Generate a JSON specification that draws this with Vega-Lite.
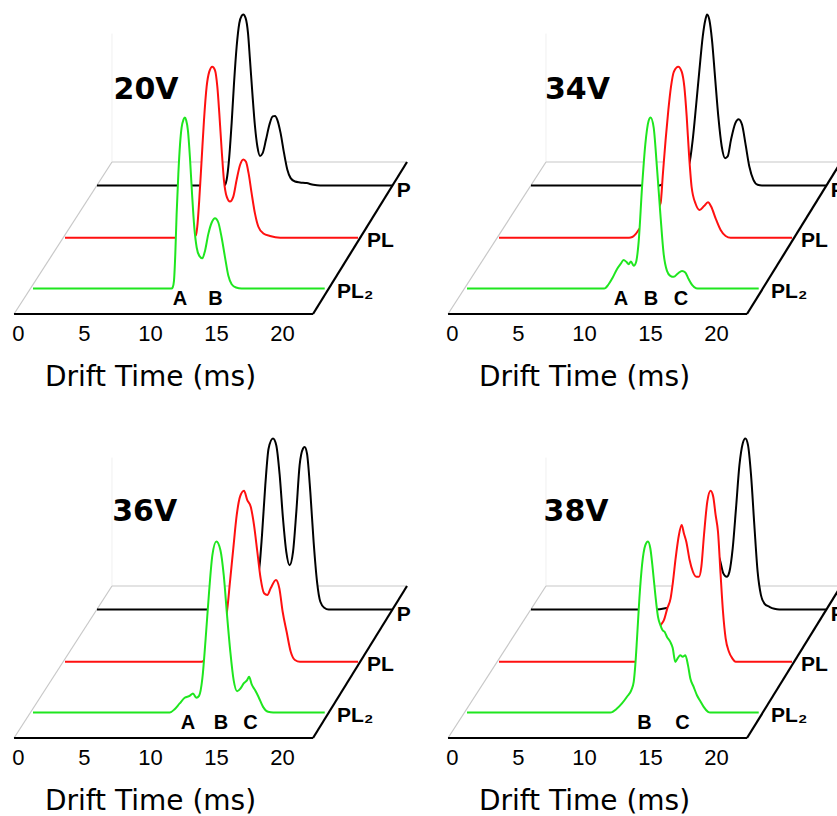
{
"$schema": "https://vega.github.io/schema/vega-lite/v6.json",
"padding": 0,
"background": "white",
"datasets": {
"traces": [
{"p":"20V","s":"PL2","t":0,"v":0},{"p":"20V","s":"PL2","t":10.5,"v":0},{"p":"20V","s":"PL2","t":10.58,"v":0.6},{"p":"20V","s":"PL2","t":10.68,"v":4.5},{"p":"20V","s":"PL2","t":10.78,"v":20.1},{"p":"20V","s":"PL2","t":10.88,"v":43.5},{"p":"20V","s":"PL2","t":11.01,"v":66.9},{"p":"20V","s":"PL2","t":11.14,"v":84.4},{"p":"20V","s":"PL2","t":11.26,"v":94.2},{"p":"20V","s":"PL2","t":11.4,"v":98.8},{"p":"20V","s":"PL2","t":11.5,"v":100},{"p":"20V","s":"PL2","t":11.6,"v":98.6},{"p":"20V","s":"PL2","t":11.74,"v":92.2},{"p":"20V","s":"PL2","t":11.89,"v":76.6},{"p":"20V","s":"PL2","t":12.05,"v":55.2},{"p":"20V","s":"PL2","t":12.22,"v":35.7},{"p":"20V","s":"PL2","t":12.4,"v":24},{"p":"20V","s":"PL2","t":12.6,"v":19.1},{"p":"20V","s":"PL2","t":12.83,"v":17.7},{"p":"20V","s":"PL2","t":13.03,"v":22},{"p":"20V","s":"PL2","t":13.28,"v":31.8},{"p":"20V","s":"PL2","t":13.54,"v":38.6},{"p":"20V","s":"PL2","t":13.79,"v":41.1},{"p":"20V","s":"PL2","t":14.04,"v":38.6},{"p":"20V","s":"PL2","t":14.29,"v":29.8},{"p":"20V","s":"PL2","t":14.55,"v":18.1},{"p":"20V","s":"PL2","t":14.8,"v":7.4},{"p":"20V","s":"PL2","t":15.05,"v":2.5},{"p":"20V","s":"PL2","t":15.38,"v":0.6},{"p":"20V","s":"PL2","t":15.8,"v":0},{"p":"20V","s":"PL2","t":22.1,"v":0},
{"p":"20V","s":"PL","t":0,"v":0},{"p":"20V","s":"PL","t":9.7,"v":0},{"p":"20V","s":"PL","t":9.92,"v":1.6},{"p":"20V","s":"PL","t":10.02,"v":6.4},{"p":"20V","s":"PL","t":10.17,"v":22},{"p":"20V","s":"PL","t":10.35,"v":45.4},{"p":"20V","s":"PL","t":10.53,"v":68.8},{"p":"20V","s":"PL","t":10.73,"v":88.3},{"p":"20V","s":"PL","t":10.93,"v":97.1},{"p":"20V","s":"PL","t":11.16,"v":100},{"p":"20V","s":"PL","t":11.36,"v":98},{"p":"20V","s":"PL","t":11.54,"v":88.3},{"p":"20V","s":"PL","t":11.69,"v":72.7},{"p":"20V","s":"PL","t":11.87,"v":51.3},{"p":"20V","s":"PL","t":12.04,"v":33.7},{"p":"20V","s":"PL","t":12.25,"v":24},{"p":"20V","s":"PL","t":12.5,"v":21.1},{"p":"20V","s":"PL","t":12.75,"v":24},{"p":"20V","s":"PL","t":13.0,"v":33.7},{"p":"20V","s":"PL","t":13.26,"v":42.5},{"p":"20V","s":"PL","t":13.51,"v":45.8},{"p":"20V","s":"PL","t":13.71,"v":44.4},{"p":"20V","s":"PL","t":13.91,"v":37.6},{"p":"20V","s":"PL","t":14.14,"v":25.9},{"p":"20V","s":"PL","t":14.39,"v":14.2},{"p":"20V","s":"PL","t":14.65,"v":6.4},{"p":"20V","s":"PL","t":15.03,"v":2.5},{"p":"20V","s":"PL","t":15.53,"v":1},{"p":"20V","s":"PL","t":16.3,"v":0},{"p":"20V","s":"PL","t":22.2,"v":0},
{"p":"20V","s":"P","t":0,"v":0},{"p":"20V","s":"P","t":9.6,"v":0},{"p":"20V","s":"P","t":9.7,"v":0.4},{"p":"20V","s":"P","t":9.82,"v":3.3},{"p":"20V","s":"P","t":10.0,"v":15},{"p":"20V","s":"P","t":10.2,"v":36.5},{"p":"20V","s":"P","t":10.38,"v":59.8},{"p":"20V","s":"P","t":10.58,"v":81.3},{"p":"20V","s":"P","t":10.78,"v":94.9},{"p":"20V","s":"P","t":10.96,"v":99.2},{"p":"20V","s":"P","t":11.08,"v":100},{"p":"20V","s":"P","t":11.26,"v":97.9},{"p":"20V","s":"P","t":11.44,"v":89.1},{"p":"20V","s":"P","t":11.59,"v":73.5},{"p":"20V","s":"P","t":11.77,"v":54},{"p":"20V","s":"P","t":11.97,"v":34.5},{"p":"20V","s":"P","t":12.15,"v":22.8},{"p":"20V","s":"P","t":12.35,"v":17.3},{"p":"20V","s":"P","t":12.55,"v":18.9},{"p":"20V","s":"P","t":12.8,"v":26.7},{"p":"20V","s":"P","t":13.06,"v":35.5},{"p":"20V","s":"P","t":13.31,"v":40.4},{"p":"20V","s":"P","t":13.49,"v":40.7},{"p":"20V","s":"P","t":13.66,"v":38.4},{"p":"20V","s":"P","t":13.91,"v":30.6},{"p":"20V","s":"P","t":14.17,"v":18.9},{"p":"20V","s":"P","t":14.42,"v":9.2},{"p":"20V","s":"P","t":14.67,"v":4.3},{"p":"20V","s":"P","t":15.0,"v":2.3},{"p":"20V","s":"P","t":15.38,"v":1.8},{"p":"20V","s":"P","t":15.88,"v":1.4},{"p":"20V","s":"P","t":16.39,"v":0.4},{"p":"20V","s":"P","t":16.9,"v":0},{"p":"20V","s":"P","t":22.35,"v":0},
{"p":"34V","s":"PL2","t":0,"v":0},{"p":"34V","s":"PL2","t":10.4,"v":0},{"p":"34V","s":"PL2","t":10.48,"v":0.2},{"p":"34V","s":"PL2","t":10.73,"v":2.5},{"p":"34V","s":"PL2","t":11.04,"v":6.4},{"p":"34V","s":"PL2","t":11.36,"v":11.3},{"p":"34V","s":"PL2","t":11.62,"v":14.2},{"p":"34V","s":"PL2","t":11.87,"v":16.6},{"p":"34V","s":"PL2","t":12.07,"v":15.6},{"p":"34V","s":"PL2","t":12.25,"v":14.2},{"p":"34V","s":"PL2","t":12.42,"v":15.8},{"p":"34V","s":"PL2","t":12.63,"v":13.3},{"p":"34V","s":"PL2","t":12.8,"v":15.2},{"p":"34V","s":"PL2","t":13.01,"v":27.9},{"p":"34V","s":"PL2","t":13.26,"v":59.1},{"p":"34V","s":"PL2","t":13.51,"v":84.4},{"p":"34V","s":"PL2","t":13.76,"v":98.1},{"p":"34V","s":"PL2","t":13.91,"v":100},{"p":"34V","s":"PL2","t":14.14,"v":94.2},{"p":"34V","s":"PL2","t":14.39,"v":70.8},{"p":"34V","s":"PL2","t":14.65,"v":43.5},{"p":"34V","s":"PL2","t":14.9,"v":20.1},{"p":"34V","s":"PL2","t":15.15,"v":10.3},{"p":"34V","s":"PL2","t":15.4,"v":7.4},{"p":"34V","s":"PL2","t":15.66,"v":6.8},{"p":"34V","s":"PL2","t":15.98,"v":8.8},{"p":"34V","s":"PL2","t":16.29,"v":10.3},{"p":"34V","s":"PL2","t":16.54,"v":9.4},{"p":"34V","s":"PL2","t":16.79,"v":5.5},{"p":"34V","s":"PL2","t":17.05,"v":2.1},{"p":"34V","s":"PL2","t":17.35,"v":0.2},{"p":"34V","s":"PL2","t":17.6,"v":0},{"p":"34V","s":"PL2","t":22.1,"v":0},
{"p":"34V","s":"PL","t":0,"v":0},{"p":"34V","s":"PL","t":9.85,"v":0},{"p":"34V","s":"PL","t":10.1,"v":0.4},{"p":"34V","s":"PL","t":10.35,"v":2.1},{"p":"34V","s":"PL","t":10.61,"v":4.9},{"p":"34V","s":"PL","t":10.86,"v":7.4},{"p":"34V","s":"PL","t":11.24,"v":10.3},{"p":"34V","s":"PL","t":11.62,"v":13},{"p":"34V","s":"PL","t":11.95,"v":16},{"p":"34V","s":"PL","t":12.24,"v":20.1},{"p":"34V","s":"PL","t":12.42,"v":37.7},{"p":"34V","s":"PL","t":12.62,"v":57.1},{"p":"34V","s":"PL","t":12.83,"v":74.7},{"p":"34V","s":"PL","t":13.03,"v":88.3},{"p":"34V","s":"PL","t":13.25,"v":97.1},{"p":"34V","s":"PL","t":13.58,"v":100},{"p":"34V","s":"PL","t":13.84,"v":97.1},{"p":"34V","s":"PL","t":14.04,"v":88.3},{"p":"34V","s":"PL","t":14.22,"v":70.8},{"p":"34V","s":"PL","t":14.39,"v":49.3},{"p":"34V","s":"PL","t":14.59,"v":29.8},{"p":"34V","s":"PL","t":14.9,"v":19.7},{"p":"34V","s":"PL","t":15.2,"v":16.2},{"p":"34V","s":"PL","t":15.53,"v":18.5},{"p":"34V","s":"PL","t":15.83,"v":20.7},{"p":"34V","s":"PL","t":16.08,"v":18.1},{"p":"34V","s":"PL","t":16.41,"v":11.3},{"p":"34V","s":"PL","t":16.79,"v":4.5},{"p":"34V","s":"PL","t":17.17,"v":1},{"p":"34V","s":"PL","t":17.55,"v":0},{"p":"34V","s":"PL","t":22.2,"v":0},
{"p":"34V","s":"P","t":0,"v":0},{"p":"34V","s":"P","t":9.72,"v":0},{"p":"34V","s":"P","t":10.23,"v":1.8},{"p":"34V","s":"P","t":10.99,"v":4.3},{"p":"34V","s":"P","t":11.62,"v":8.2},{"p":"34V","s":"P","t":12.0,"v":13.1},{"p":"34V","s":"P","t":12.25,"v":26.7},{"p":"34V","s":"P","t":12.5,"v":46.2},{"p":"34V","s":"P","t":12.76,"v":67.6},{"p":"34V","s":"P","t":13.01,"v":87.1},{"p":"34V","s":"P","t":13.21,"v":96.9},{"p":"34V","s":"P","t":13.34,"v":100},{"p":"34V","s":"P","t":13.51,"v":96.9},{"p":"34V","s":"P","t":13.71,"v":85.2},{"p":"34V","s":"P","t":13.94,"v":63.7},{"p":"34V","s":"P","t":14.19,"v":40.4},{"p":"34V","s":"P","t":14.45,"v":22.8},{"p":"34V","s":"P","t":14.7,"v":16},{"p":"34V","s":"P","t":14.9,"v":17},{"p":"34V","s":"P","t":15.15,"v":26.7},{"p":"34V","s":"P","t":15.48,"v":36.5},{"p":"34V","s":"P","t":15.73,"v":38.8},{"p":"34V","s":"P","t":15.99,"v":35.5},{"p":"34V","s":"P","t":16.24,"v":24.8},{"p":"34V","s":"P","t":16.54,"v":11.1},{"p":"34V","s":"P","t":16.85,"v":3.3},{"p":"34V","s":"P","t":17.17,"v":0.4},{"p":"34V","s":"P","t":17.5,"v":0},{"p":"34V","s":"P","t":22.35,"v":0},
{"p":"36V","s":"PL2","t":0,"v":0},{"p":"36V","s":"PL2","t":10.36,"v":0},{"p":"36V","s":"PL2","t":10.73,"v":1.9},{"p":"36V","s":"PL2","t":11.11,"v":5.3},{"p":"36V","s":"PL2","t":11.49,"v":8.6},{"p":"36V","s":"PL2","t":11.87,"v":9.7},{"p":"36V","s":"PL2","t":12.12,"v":11.1},{"p":"36V","s":"PL2","t":12.38,"v":8.6},{"p":"36V","s":"PL2","t":12.58,"v":9.7},{"p":"36V","s":"PL2","t":12.83,"v":19.9},{"p":"36V","s":"PL2","t":13.08,"v":43.3},{"p":"36V","s":"PL2","t":13.34,"v":70.6},{"p":"36V","s":"PL2","t":13.59,"v":92},{"p":"36V","s":"PL2","t":13.89,"v":100},{"p":"36V","s":"PL2","t":14.2,"v":94.9},{"p":"36V","s":"PL2","t":14.45,"v":80.3},{"p":"36V","s":"PL2","t":14.7,"v":56.9},{"p":"36V","s":"PL2","t":14.95,"v":35.5},{"p":"36V","s":"PL2","t":15.2,"v":18.9},{"p":"36V","s":"PL2","t":15.46,"v":12.5},{"p":"36V","s":"PL2","t":15.71,"v":14},{"p":"36V","s":"PL2","t":15.96,"v":17},{"p":"36V","s":"PL2","t":16.22,"v":18.9},{"p":"36V","s":"PL2","t":16.37,"v":20.9},{"p":"36V","s":"PL2","t":16.57,"v":16.4},{"p":"36V","s":"PL2","t":16.82,"v":13.1},{"p":"36V","s":"PL2","t":17.08,"v":9.2},{"p":"36V","s":"PL2","t":17.43,"v":3.3},{"p":"36V","s":"PL2","t":17.81,"v":0.4},{"p":"36V","s":"PL2","t":18.2,"v":0},{"p":"36V","s":"PL2","t":22.1,"v":0},
{"p":"36V","s":"PL","t":0,"v":0},{"p":"36V","s":"PL","t":10.35,"v":0},{"p":"36V","s":"PL","t":10.73,"v":1.9},{"p":"36V","s":"PL","t":11.24,"v":7.8},{"p":"36V","s":"PL","t":11.74,"v":16.6},{"p":"36V","s":"PL","t":12.25,"v":28.3},{"p":"36V","s":"PL","t":12.5,"v":46.8},{"p":"36V","s":"PL","t":12.75,"v":66.3},{"p":"36V","s":"PL","t":13.01,"v":85.8},{"p":"36V","s":"PL","t":13.26,"v":96.5},{"p":"36V","s":"PL","t":13.56,"v":100},{"p":"36V","s":"PL","t":13.81,"v":94.5},{"p":"36V","s":"PL","t":14.07,"v":90.6},{"p":"36V","s":"PL","t":14.32,"v":79.9},{"p":"36V","s":"PL","t":14.57,"v":64.3},{"p":"36V","s":"PL","t":14.82,"v":48.7},{"p":"36V","s":"PL","t":15.08,"v":40},{"p":"36V","s":"PL","t":15.33,"v":39},{"p":"36V","s":"PL","t":15.58,"v":42.9},{"p":"36V","s":"PL","t":15.98,"v":47.8},{"p":"36V","s":"PL","t":16.24,"v":42.9},{"p":"36V","s":"PL","t":16.49,"v":29.2},{"p":"36V","s":"PL","t":16.79,"v":17.5},{"p":"36V","s":"PL","t":17.1,"v":5.8},{"p":"36V","s":"PL","t":17.42,"v":1},{"p":"36V","s":"PL","t":17.8,"v":0},{"p":"36V","s":"PL","t":22.2,"v":0},
{"p":"36V","s":"P","t":0,"v":0},{"p":"36V","s":"P","t":9.97,"v":0},{"p":"36V","s":"P","t":10.85,"v":1.6},{"p":"36V","s":"P","t":11.49,"v":5.5},{"p":"36V","s":"P","t":12.0,"v":14.2},{"p":"36V","s":"P","t":12.32,"v":25.9},{"p":"36V","s":"P","t":12.5,"v":43.5},{"p":"36V","s":"P","t":12.75,"v":72.7},{"p":"36V","s":"P","t":13.0,"v":94.2},{"p":"36V","s":"P","t":13.33,"v":100},{"p":"36V","s":"P","t":13.58,"v":96.1},{"p":"36V","s":"P","t":13.84,"v":78.6},{"p":"36V","s":"P","t":14.09,"v":53.2},{"p":"36V","s":"P","t":14.34,"v":33.7},{"p":"36V","s":"P","t":14.59,"v":25.9},{"p":"36V","s":"P","t":14.85,"v":33.7},{"p":"36V","s":"P","t":15.1,"v":57.1},{"p":"36V","s":"P","t":15.35,"v":84.4},{"p":"36V","s":"P","t":15.61,"v":94.2},{"p":"36V","s":"P","t":15.73,"v":95.1},{"p":"36V","s":"P","t":15.91,"v":91.2},{"p":"36V","s":"P","t":16.16,"v":68.8},{"p":"36V","s":"P","t":16.41,"v":39.6},{"p":"36V","s":"P","t":16.67,"v":16.2},{"p":"36V","s":"P","t":16.92,"v":4.5},{"p":"36V","s":"P","t":17.22,"v":1},{"p":"36V","s":"P","t":17.55,"v":0},{"p":"36V","s":"P","t":22.35,"v":0},
{"p":"38V","s":"PL2","t":0,"v":0},{"p":"38V","s":"PL2","t":10.86,"v":0},{"p":"38V","s":"PL2","t":11.36,"v":2.3},{"p":"38V","s":"PL2","t":11.74,"v":5.3},{"p":"38V","s":"PL2","t":12.12,"v":9.2},{"p":"38V","s":"PL2","t":12.45,"v":13.1},{"p":"38V","s":"PL2","t":12.63,"v":17.9},{"p":"38V","s":"PL2","t":12.75,"v":27.7},{"p":"38V","s":"PL2","t":12.88,"v":43.3},{"p":"38V","s":"PL2","t":13.06,"v":66.7},{"p":"38V","s":"PL2","t":13.26,"v":86.2},{"p":"38V","s":"PL2","t":13.51,"v":97.9},{"p":"38V","s":"PL2","t":13.71,"v":100},{"p":"38V","s":"PL2","t":13.89,"v":95.9},{"p":"38V","s":"PL2","t":14.07,"v":84.2},{"p":"38V","s":"PL2","t":14.27,"v":68.6},{"p":"38V","s":"PL2","t":14.47,"v":55.9},{"p":"38V","s":"PL2","t":14.65,"v":51.1},{"p":"38V","s":"PL2","t":14.82,"v":48.1},{"p":"38V","s":"PL2","t":14.97,"v":47.2},{"p":"38V","s":"PL2","t":15.15,"v":44.2},{"p":"38V","s":"PL2","t":15.4,"v":41.3},{"p":"38V","s":"PL2","t":15.58,"v":37.8},{"p":"38V","s":"PL2","t":15.78,"v":29.6},{"p":"38V","s":"PL2","t":15.98,"v":32},{"p":"38V","s":"PL2","t":16.16,"v":33.5},{"p":"38V","s":"PL2","t":16.34,"v":32.6},{"p":"38V","s":"PL2","t":16.54,"v":33.5},{"p":"38V","s":"PL2","t":16.74,"v":27.7},{"p":"38V","s":"PL2","t":16.92,"v":19.9},{"p":"38V","s":"PL2","t":17.17,"v":15},{"p":"38V","s":"PL2","t":17.42,"v":10.1},{"p":"38V","s":"PL2","t":17.68,"v":6.6},{"p":"38V","s":"PL2","t":17.93,"v":3.3},{"p":"38V","s":"PL2","t":18.26,"v":0.4},{"p":"38V","s":"PL2","t":18.43,"v":0},{"p":"38V","s":"PL2","t":22.1,"v":0},
{"p":"38V","s":"PL","t":0,"v":0},{"p":"38V","s":"PL","t":10.48,"v":0},{"p":"38V","s":"PL","t":11.1,"v":2.3},{"p":"38V","s":"PL","t":11.61,"v":6.8},{"p":"38V","s":"PL","t":12.25,"v":21.4},{"p":"38V","s":"PL","t":12.5,"v":24.4},{"p":"38V","s":"PL","t":12.75,"v":31.2},{"p":"38V","s":"PL","t":13.0,"v":37},{"p":"38V","s":"PL","t":13.18,"v":46.8},{"p":"38V","s":"PL","t":13.38,"v":60.4},{"p":"38V","s":"PL","t":13.63,"v":74.1},{"p":"38V","s":"PL","t":13.84,"v":79.9},{"p":"38V","s":"PL","t":14.01,"v":75},{"p":"38V","s":"PL","t":14.19,"v":70.2},{"p":"38V","s":"PL","t":14.44,"v":59.5},{"p":"38V","s":"PL","t":14.69,"v":52.6},{"p":"38V","s":"PL","t":14.95,"v":49.7},{"p":"38V","s":"PL","t":15.15,"v":49.7},{"p":"38V","s":"PL","t":15.33,"v":55.6},{"p":"38V","s":"PL","t":15.53,"v":74.1},{"p":"38V","s":"PL","t":15.78,"v":93.6},{"p":"38V","s":"PL","t":16.03,"v":100},{"p":"38V","s":"PL","t":16.23,"v":96.5},{"p":"38V","s":"PL","t":16.41,"v":85.8},{"p":"38V","s":"PL","t":16.59,"v":76},{"p":"38V","s":"PL","t":16.79,"v":50.7},{"p":"38V","s":"PL","t":16.97,"v":29.2},{"p":"38V","s":"PL","t":17.17,"v":13.6},{"p":"38V","s":"PL","t":17.42,"v":5.8},{"p":"38V","s":"PL","t":17.68,"v":1.9},{"p":"38V","s":"PL","t":17.93,"v":0},{"p":"38V","s":"PL","t":22.2,"v":0},
{"p":"38V","s":"P","t":0,"v":0},{"p":"38V","s":"P","t":9.47,"v":0},{"p":"38V","s":"P","t":10.36,"v":1},{"p":"38V","s":"P","t":11.24,"v":2.5},{"p":"38V","s":"P","t":12.0,"v":6.4},{"p":"38V","s":"P","t":12.75,"v":16.2},{"p":"38V","s":"P","t":13.26,"v":29.8},{"p":"38V","s":"P","t":13.64,"v":37.6},{"p":"38V","s":"P","t":13.97,"v":35.7},{"p":"38V","s":"P","t":14.32,"v":28.8},{"p":"38V","s":"P","t":14.57,"v":21.1},{"p":"38V","s":"P","t":14.83,"v":19.1},{"p":"38V","s":"P","t":15.03,"v":22},{"p":"38V","s":"P","t":15.28,"v":35.7},{"p":"38V","s":"P","t":15.53,"v":59.1},{"p":"38V","s":"P","t":15.79,"v":84.4},{"p":"38V","s":"P","t":16.04,"v":97.1},{"p":"38V","s":"P","t":16.24,"v":100},{"p":"38V","s":"P","t":16.44,"v":96.1},{"p":"38V","s":"P","t":16.67,"v":78.6},{"p":"38V","s":"P","t":16.92,"v":49.3},{"p":"38V","s":"P","t":17.17,"v":22},{"p":"38V","s":"P","t":17.42,"v":8.4},{"p":"38V","s":"P","t":17.68,"v":3.5},{"p":"38V","s":"P","t":18.06,"v":1.6},{"p":"38V","s":"P","t":18.44,"v":0.4},{"p":"38V","s":"P","t":18.81,"v":0},{"p":"38V","s":"P","t":22.35,"v":0}
],
"floor": [
{"e":"front","t":-0.3,"v":0,"t2":22.35,"v2":0},{"e":"right","t":22.35,"v":0,"t2":29.47,"v2":88.9},{"e":"back","t":7.12,"v":88.9,"t2":29.47,"v2":88.9},{"e":"left","t":-0.3,"v":0,"t2":7.12,"v2":88.9},{"e":"post","t":7.12,"v":88.9,"t2":7.12,"v2":164}
],
"labels": [
{"p":"20V","k":"volt","t":9.7,"v":126,"txt":"20V"},{"p":"34V","k":"volt","t":9.5,"v":126,"txt":"34V"},{"p":"36V","k":"volt","t":9.6,"v":127,"txt":"36V"},{"p":"38V","k":"volt","t":9.4,"v":127,"txt":"38V"},
{"p":"20V","k":"pk","t":12.27,"v":5.3,"txt":"A"},{"p":"20V","k":"pk","t":14.96,"v":5.3,"txt":"B"},
{"p":"34V","k":"pk","t":12.8,"v":5.3,"txt":"A"},{"p":"34V","k":"pk","t":15.08,"v":5.3,"txt":"B"},{"p":"34V","k":"pk","t":17.35,"v":5.3,"txt":"C"},
{"p":"36V","k":"pk","t":12.88,"v":5,"txt":"A"},{"p":"36V","k":"pk","t":15.38,"v":5,"txt":"B"},{"p":"36V","k":"pk","t":17.61,"v":5,"txt":"C"},
{"p":"38V","k":"pk","t":14.58,"v":5,"txt":"B"},{"p":"38V","k":"pk","t":17.46,"v":5,"txt":"C"},
{"p":"20V","k":"ser","t":28.7,"v":68.5,"txt":"P"},{"p":"20V","k":"ser","t":26.43,"v":39.2,"txt":"PL"},{"p":"20V","k":"ser","t":24.17,"v":9.4,"txt":"PL₂"},
{"p":"34V","k":"ser","t":28.7,"v":68.5,"txt":"P"},{"p":"34V","k":"ser","t":26.43,"v":39.2,"txt":"PL"},{"p":"34V","k":"ser","t":24.17,"v":9.4,"txt":"PL₂"},
{"p":"36V","k":"ser","t":28.7,"v":68.5,"txt":"P"},{"p":"36V","k":"ser","t":26.43,"v":39.2,"txt":"PL"},{"p":"36V","k":"ser","t":24.17,"v":9.4,"txt":"PL₂"},
{"p":"38V","k":"ser","t":28.7,"v":68.5,"txt":"P"},{"p":"38V","k":"ser","t":26.43,"v":39.2,"txt":"PL"},{"p":"38V","k":"ser","t":24.17,"v":9.4,"txt":"PL₂"}
]
},
"columns": 2,
"spacing": {"row": 110, "column": 14},
"bounds": "flush",
"concat": [
{"width": 420, "height": 314,
 "encoding": {
  "x": {"field": "t", "type": "quantitative", "scale": {"domain": [-1.3636, 30.4545], "nice": false, "zero": false},
   "axis": {"values": [0,5,10,15,20], "domain": false, "ticks": false, "tickSize": 0, "grid": false, "labelFont": "Liberation Sans", "labelFontSize": 22, "labelColor": "#000000", "labelPadding": 26, "labelBaseline": "alphabetic", "labelOverlap": false, "labelFlush": false, "labelBound": false,
    "title": "Drift Time (ms)", "titleFont": "DejaVu Sans", "titleFontSize": 28, "titleFontWeight": "normal", "titleColor": "#000000", "titleX": 150, "titleY": 71, "titleAlign": "center", "titleBaseline": "alphabetic"}},
  "y": {"field": "v", "type": "quantitative", "scale": {"domain": [0, 183.63], "nice": false, "zero": false}, "axis": null}},
 "layer": [
  {"data": {"name": "floor"}, "transform": [{"filter": "datum.e == 'post'"}], "mark": {"type": "rule", "color": "#f0f0f0", "strokeWidth": 1}, "encoding": {"x2": {"field": "t2"}, "y2": {"field": "v2"}}},
  {"data": {"name": "floor"}, "transform": [{"filter": "datum.e == 'back' || datum.e == 'left'"}], "mark": {"type": "rule", "color": "#c8c8c8", "strokeWidth": 1.2}, "encoding": {"x2": {"field": "t2"}, "y2": {"field": "v2"}}},
  {"data": {"name": "floor"}, "transform": [{"filter": "datum.e == 'front' || datum.e == 'right'"}], "mark": {"type": "rule", "color": "#000000", "strokeWidth": 2.2}, "encoding": {"x2": {"field": "t2"}, "y2": {"field": "v2"}}},
  {"data": {"name": "traces"}, "transform": [{"filter": "datum.p == '20V' && datum.s == 'P'"}], "mark": {"type": "area", "color": "#ffffff", "opacity": 1, "interpolate": "monotone", "xOffset": 79, "yOffset": -128.5, "y2Offset": -128.5}, "encoding": {"y2": {"datum": 0}}},
  {"data": {"name": "traces"}, "transform": [{"filter": "datum.p == '20V' && datum.s == 'P'"}], "mark": {"type": "line", "color": "#000000", "strokeWidth": 2, "interpolate": "monotone", "xOffset": 79, "yOffset": -128.5}, "encoding": {}},
  {"data": {"name": "traces"}, "transform": [{"filter": "datum.p == '20V' && datum.s == 'PL'"}], "mark": {"type": "area", "color": "#ffffff", "opacity": 1, "interpolate": "monotone", "xOffset": 47, "yOffset": -76.3, "y2Offset": -76.3}, "encoding": {"y2": {"datum": 0}}},
  {"data": {"name": "traces"}, "transform": [{"filter": "datum.p == '20V' && datum.s == 'PL'"}], "mark": {"type": "line", "color": "#ff1010", "strokeWidth": 2, "interpolate": "monotone", "xOffset": 47, "yOffset": -76.3}, "encoding": {}},
  {"data": {"name": "traces"}, "transform": [{"filter": "datum.p == '20V' && datum.s == 'PL2'"}], "mark": {"type": "area", "color": "#ffffff", "opacity": 1, "interpolate": "monotone", "xOffset": 15, "yOffset": -25.5, "y2Offset": -25.5}, "encoding": {"y2": {"datum": 0}}},
  {"data": {"name": "traces"}, "transform": [{"filter": "datum.p == '20V' && datum.s == 'PL2'"}], "mark": {"type": "line", "color": "#1fe61f", "strokeWidth": 2, "interpolate": "monotone", "xOffset": 15, "yOffset": -25.5}, "encoding": {}},
  {"data": {"name": "labels"}, "transform": [{"filter": "datum.p == '20V' && datum.k == 'volt'"}], "mark": {"type": "text", "font": "DejaVu Sans", "fontSize": 30, "fontWeight": "bold", "align": "center", "baseline": "alphabetic", "color": "#000000"}, "encoding": {"text": {"field": "txt"}}},
  {"data": {"name": "labels"}, "transform": [{"filter": "datum.p == '20V' && datum.k == 'pk'"}], "mark": {"type": "text", "font": "Liberation Sans", "fontSize": 20, "fontWeight": "bold", "align": "center", "baseline": "alphabetic", "color": "#000000"}, "encoding": {"text": {"field": "txt"}}},
  {"data": {"name": "labels"}, "transform": [{"filter": "datum.p == '20V' && datum.k == 'ser'"}], "mark": {"type": "text", "font": "Liberation Sans", "fontSize": 21, "fontWeight": "bold", "align": "left", "baseline": "alphabetic", "color": "#000000"}, "encoding": {"text": {"field": "txt"}}}
 ]},
{"width": 420, "height": 314,
 "encoding": {
  "x": {"field": "t", "type": "quantitative", "scale": {"domain": [-1.3636, 30.4545], "nice": false, "zero": false},
   "axis": {"values": [0,5,10,15,20], "domain": false, "ticks": false, "tickSize": 0, "grid": false, "labelFont": "Liberation Sans", "labelFontSize": 22, "labelColor": "#000000", "labelPadding": 26, "labelBaseline": "alphabetic", "labelOverlap": false, "labelFlush": false, "labelBound": false,
    "title": "Drift Time (ms)", "titleFont": "DejaVu Sans", "titleFontSize": 28, "titleFontWeight": "normal", "titleColor": "#000000", "titleX": 150, "titleY": 71, "titleAlign": "center", "titleBaseline": "alphabetic"}},
  "y": {"field": "v", "type": "quantitative", "scale": {"domain": [0, 183.63], "nice": false, "zero": false}, "axis": null}},
 "layer": [
  {"data": {"name": "floor"}, "transform": [{"filter": "datum.e == 'post'"}], "mark": {"type": "rule", "color": "#f0f0f0", "strokeWidth": 1}, "encoding": {"x2": {"field": "t2"}, "y2": {"field": "v2"}}},
  {"data": {"name": "floor"}, "transform": [{"filter": "datum.e == 'back' || datum.e == 'left'"}], "mark": {"type": "rule", "color": "#c8c8c8", "strokeWidth": 1.2}, "encoding": {"x2": {"field": "t2"}, "y2": {"field": "v2"}}},
  {"data": {"name": "floor"}, "transform": [{"filter": "datum.e == 'front' || datum.e == 'right'"}], "mark": {"type": "rule", "color": "#000000", "strokeWidth": 2.2}, "encoding": {"x2": {"field": "t2"}, "y2": {"field": "v2"}}},
  {"data": {"name": "traces"}, "transform": [{"filter": "datum.p == '34V' && datum.s == 'P'"}], "mark": {"type": "area", "color": "#ffffff", "opacity": 1, "interpolate": "monotone", "xOffset": 79, "yOffset": -128.5, "y2Offset": -128.5}, "encoding": {"y2": {"datum": 0}}},
  {"data": {"name": "traces"}, "transform": [{"filter": "datum.p == '34V' && datum.s == 'P'"}], "mark": {"type": "line", "color": "#000000", "strokeWidth": 2, "interpolate": "monotone", "xOffset": 79, "yOffset": -128.5}, "encoding": {}},
  {"data": {"name": "traces"}, "transform": [{"filter": "datum.p == '34V' && datum.s == 'PL'"}], "mark": {"type": "area", "color": "#ffffff", "opacity": 1, "interpolate": "monotone", "xOffset": 47, "yOffset": -76.3, "y2Offset": -76.3}, "encoding": {"y2": {"datum": 0}}},
  {"data": {"name": "traces"}, "transform": [{"filter": "datum.p == '34V' && datum.s == 'PL'"}], "mark": {"type": "line", "color": "#ff1010", "strokeWidth": 2, "interpolate": "monotone", "xOffset": 47, "yOffset": -76.3}, "encoding": {}},
  {"data": {"name": "traces"}, "transform": [{"filter": "datum.p == '34V' && datum.s == 'PL2'"}], "mark": {"type": "area", "color": "#ffffff", "opacity": 1, "interpolate": "monotone", "xOffset": 15, "yOffset": -25.5, "y2Offset": -25.5}, "encoding": {"y2": {"datum": 0}}},
  {"data": {"name": "traces"}, "transform": [{"filter": "datum.p == '34V' && datum.s == 'PL2'"}], "mark": {"type": "line", "color": "#1fe61f", "strokeWidth": 2, "interpolate": "monotone", "xOffset": 15, "yOffset": -25.5}, "encoding": {}},
  {"data": {"name": "labels"}, "transform": [{"filter": "datum.p == '34V' && datum.k == 'volt'"}], "mark": {"type": "text", "font": "DejaVu Sans", "fontSize": 30, "fontWeight": "bold", "align": "center", "baseline": "alphabetic", "color": "#000000"}, "encoding": {"text": {"field": "txt"}}},
  {"data": {"name": "labels"}, "transform": [{"filter": "datum.p == '34V' && datum.k == 'pk'"}], "mark": {"type": "text", "font": "Liberation Sans", "fontSize": 20, "fontWeight": "bold", "align": "center", "baseline": "alphabetic", "color": "#000000"}, "encoding": {"text": {"field": "txt"}}},
  {"data": {"name": "labels"}, "transform": [{"filter": "datum.p == '34V' && datum.k == 'ser'"}], "mark": {"type": "text", "font": "Liberation Sans", "fontSize": 21, "fontWeight": "bold", "align": "left", "baseline": "alphabetic", "color": "#000000"}, "encoding": {"text": {"field": "txt"}}}
 ]},
{"width": 420, "height": 314,
 "encoding": {
  "x": {"field": "t", "type": "quantitative", "scale": {"domain": [-1.3636, 30.4545], "nice": false, "zero": false},
   "axis": {"values": [0,5,10,15,20], "domain": false, "ticks": false, "tickSize": 0, "grid": false, "labelFont": "Liberation Sans", "labelFontSize": 22, "labelColor": "#000000", "labelPadding": 26, "labelBaseline": "alphabetic", "labelOverlap": false, "labelFlush": false, "labelBound": false,
    "title": "Drift Time (ms)", "titleFont": "DejaVu Sans", "titleFontSize": 28, "titleFontWeight": "normal", "titleColor": "#000000", "titleX": 150, "titleY": 71, "titleAlign": "center", "titleBaseline": "alphabetic"}},
  "y": {"field": "v", "type": "quantitative", "scale": {"domain": [0, 183.63], "nice": false, "zero": false}, "axis": null}},
 "layer": [
  {"data": {"name": "floor"}, "transform": [{"filter": "datum.e == 'post'"}], "mark": {"type": "rule", "color": "#f0f0f0", "strokeWidth": 1}, "encoding": {"x2": {"field": "t2"}, "y2": {"field": "v2"}}},
  {"data": {"name": "floor"}, "transform": [{"filter": "datum.e == 'back' || datum.e == 'left'"}], "mark": {"type": "rule", "color": "#c8c8c8", "strokeWidth": 1.2}, "encoding": {"x2": {"field": "t2"}, "y2": {"field": "v2"}}},
  {"data": {"name": "floor"}, "transform": [{"filter": "datum.e == 'front' || datum.e == 'right'"}], "mark": {"type": "rule", "color": "#000000", "strokeWidth": 2.2}, "encoding": {"x2": {"field": "t2"}, "y2": {"field": "v2"}}},
  {"data": {"name": "traces"}, "transform": [{"filter": "datum.p == '36V' && datum.s == 'P'"}], "mark": {"type": "area", "color": "#ffffff", "opacity": 1, "interpolate": "monotone", "xOffset": 79, "yOffset": -128.5, "y2Offset": -128.5}, "encoding": {"y2": {"datum": 0}}},
  {"data": {"name": "traces"}, "transform": [{"filter": "datum.p == '36V' && datum.s == 'P'"}], "mark": {"type": "line", "color": "#000000", "strokeWidth": 2, "interpolate": "monotone", "xOffset": 79, "yOffset": -128.5}, "encoding": {}},
  {"data": {"name": "traces"}, "transform": [{"filter": "datum.p == '36V' && datum.s == 'PL'"}], "mark": {"type": "area", "color": "#ffffff", "opacity": 1, "interpolate": "monotone", "xOffset": 47, "yOffset": -76.3, "y2Offset": -76.3}, "encoding": {"y2": {"datum": 0}}},
  {"data": {"name": "traces"}, "transform": [{"filter": "datum.p == '36V' && datum.s == 'PL'"}], "mark": {"type": "line", "color": "#ff1010", "strokeWidth": 2, "interpolate": "monotone", "xOffset": 47, "yOffset": -76.3}, "encoding": {}},
  {"data": {"name": "traces"}, "transform": [{"filter": "datum.p == '36V' && datum.s == 'PL2'"}], "mark": {"type": "area", "color": "#ffffff", "opacity": 1, "interpolate": "monotone", "xOffset": 15, "yOffset": -25.5, "y2Offset": -25.5}, "encoding": {"y2": {"datum": 0}}},
  {"data": {"name": "traces"}, "transform": [{"filter": "datum.p == '36V' && datum.s == 'PL2'"}], "mark": {"type": "line", "color": "#1fe61f", "strokeWidth": 2, "interpolate": "monotone", "xOffset": 15, "yOffset": -25.5}, "encoding": {}},
  {"data": {"name": "labels"}, "transform": [{"filter": "datum.p == '36V' && datum.k == 'volt'"}], "mark": {"type": "text", "font": "DejaVu Sans", "fontSize": 30, "fontWeight": "bold", "align": "center", "baseline": "alphabetic", "color": "#000000"}, "encoding": {"text": {"field": "txt"}}},
  {"data": {"name": "labels"}, "transform": [{"filter": "datum.p == '36V' && datum.k == 'pk'"}], "mark": {"type": "text", "font": "Liberation Sans", "fontSize": 20, "fontWeight": "bold", "align": "center", "baseline": "alphabetic", "color": "#000000"}, "encoding": {"text": {"field": "txt"}}},
  {"data": {"name": "labels"}, "transform": [{"filter": "datum.p == '36V' && datum.k == 'ser'"}], "mark": {"type": "text", "font": "Liberation Sans", "fontSize": 21, "fontWeight": "bold", "align": "left", "baseline": "alphabetic", "color": "#000000"}, "encoding": {"text": {"field": "txt"}}}
 ]},
{"width": 420, "height": 314,
 "encoding": {
  "x": {"field": "t", "type": "quantitative", "scale": {"domain": [-1.3636, 30.4545], "nice": false, "zero": false},
   "axis": {"values": [0,5,10,15,20], "domain": false, "ticks": false, "tickSize": 0, "grid": false, "labelFont": "Liberation Sans", "labelFontSize": 22, "labelColor": "#000000", "labelPadding": 26, "labelBaseline": "alphabetic", "labelOverlap": false, "labelFlush": false, "labelBound": false,
    "title": "Drift Time (ms)", "titleFont": "DejaVu Sans", "titleFontSize": 28, "titleFontWeight": "normal", "titleColor": "#000000", "titleX": 150, "titleY": 71, "titleAlign": "center", "titleBaseline": "alphabetic"}},
  "y": {"field": "v", "type": "quantitative", "scale": {"domain": [0, 183.63], "nice": false, "zero": false}, "axis": null}},
 "layer": [
  {"data": {"name": "floor"}, "transform": [{"filter": "datum.e == 'post'"}], "mark": {"type": "rule", "color": "#f0f0f0", "strokeWidth": 1}, "encoding": {"x2": {"field": "t2"}, "y2": {"field": "v2"}}},
  {"data": {"name": "floor"}, "transform": [{"filter": "datum.e == 'back' || datum.e == 'left'"}], "mark": {"type": "rule", "color": "#c8c8c8", "strokeWidth": 1.2}, "encoding": {"x2": {"field": "t2"}, "y2": {"field": "v2"}}},
  {"data": {"name": "floor"}, "transform": [{"filter": "datum.e == 'front' || datum.e == 'right'"}], "mark": {"type": "rule", "color": "#000000", "strokeWidth": 2.2}, "encoding": {"x2": {"field": "t2"}, "y2": {"field": "v2"}}},
  {"data": {"name": "traces"}, "transform": [{"filter": "datum.p == '38V' && datum.s == 'P'"}], "mark": {"type": "area", "color": "#ffffff", "opacity": 1, "interpolate": "monotone", "xOffset": 79, "yOffset": -128.5, "y2Offset": -128.5}, "encoding": {"y2": {"datum": 0}}},
  {"data": {"name": "traces"}, "transform": [{"filter": "datum.p == '38V' && datum.s == 'P'"}], "mark": {"type": "line", "color": "#000000", "strokeWidth": 2, "interpolate": "monotone", "xOffset": 79, "yOffset": -128.5}, "encoding": {}},
  {"data": {"name": "traces"}, "transform": [{"filter": "datum.p == '38V' && datum.s == 'PL'"}], "mark": {"type": "area", "color": "#ffffff", "opacity": 1, "interpolate": "monotone", "xOffset": 47, "yOffset": -76.3, "y2Offset": -76.3}, "encoding": {"y2": {"datum": 0}}},
  {"data": {"name": "traces"}, "transform": [{"filter": "datum.p == '38V' && datum.s == 'PL'"}], "mark": {"type": "line", "color": "#ff1010", "strokeWidth": 2, "interpolate": "monotone", "xOffset": 47, "yOffset": -76.3}, "encoding": {}},
  {"data": {"name": "traces"}, "transform": [{"filter": "datum.p == '38V' && datum.s == 'PL2'"}], "mark": {"type": "area", "color": "#ffffff", "opacity": 1, "interpolate": "monotone", "xOffset": 15, "yOffset": -25.5, "y2Offset": -25.5}, "encoding": {"y2": {"datum": 0}}},
  {"data": {"name": "traces"}, "transform": [{"filter": "datum.p == '38V' && datum.s == 'PL2'"}], "mark": {"type": "line", "color": "#1fe61f", "strokeWidth": 2, "interpolate": "monotone", "xOffset": 15, "yOffset": -25.5}, "encoding": {}},
  {"data": {"name": "labels"}, "transform": [{"filter": "datum.p == '38V' && datum.k == 'volt'"}], "mark": {"type": "text", "font": "DejaVu Sans", "fontSize": 30, "fontWeight": "bold", "align": "center", "baseline": "alphabetic", "color": "#000000"}, "encoding": {"text": {"field": "txt"}}},
  {"data": {"name": "labels"}, "transform": [{"filter": "datum.p == '38V' && datum.k == 'pk'"}], "mark": {"type": "text", "font": "Liberation Sans", "fontSize": 20, "fontWeight": "bold", "align": "center", "baseline": "alphabetic", "color": "#000000"}, "encoding": {"text": {"field": "txt"}}},
  {"data": {"name": "labels"}, "transform": [{"filter": "datum.p == '38V' && datum.k == 'ser'"}], "mark": {"type": "text", "font": "Liberation Sans", "fontSize": 21, "fontWeight": "bold", "align": "left", "baseline": "alphabetic", "color": "#000000"}, "encoding": {"text": {"field": "txt"}}}
 ]}
],
"config": {"view": {"stroke": null}}
}
